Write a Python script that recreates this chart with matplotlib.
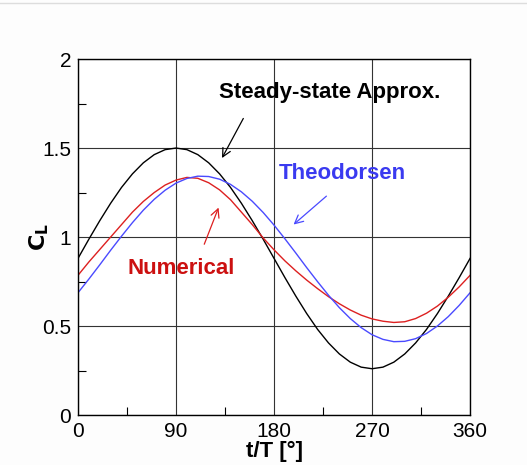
import numpy as np
import matplotlib
matplotlib.use('Agg')
import matplotlib.pyplot as plt
from matplotlib.lines import Line2D
from matplotlib.ticker import MultipleLocator

plt.rcParams['font.family'] = ['Liberation Sans', 'DejaVu Sans']

#%% datos (fase en grados, C_L)
theta = [0, 10, 20, 30, 40, 50, 60, 70, 80, 90, 100, 110, 120, 130, 140, 150, 160, 170, 180,
         190, 200, 210, 220, 230, 240, 250, 260, 270, 280, 290, 300, 310, 320, 330, 340, 350, 360]

cl_steady = [0.880, 0.988, 1.092, 1.190, 1.279, 1.355, 1.417, 1.463, 1.491, 1.500, 1.491, 1.463,
             1.417, 1.355, 1.279, 1.190, 1.092, 0.988, 0.880, 0.772, 0.668, 0.570, 0.481, 0.405,
             0.343, 0.297, 0.269, 0.260, 0.269, 0.297, 0.343, 0.405, 0.481, 0.570, 0.668, 0.772, 0.880]

cl_numerical = [0.785, 0.860, 0.930, 1.000, 1.070, 1.140, 1.200, 1.250, 1.292, 1.320, 1.335, 1.330,
                1.305, 1.265, 1.210, 1.140, 1.070, 0.995, 0.928, 0.866, 0.810, 0.758, 0.710, 0.665,
                0.625, 0.590, 0.561, 0.540, 0.527, 0.520, 0.524, 0.542, 0.572, 0.612, 0.662, 0.720, 0.785]

cl_theodorsen = [0.687, 0.764, 0.844, 0.926, 1.005, 1.081, 1.151, 1.212, 1.263, 1.303, 1.329, 1.342,
                 1.340, 1.325, 1.296, 1.254, 1.201, 1.138, 1.067, 0.990, 0.910, 0.828, 0.749, 0.673,
                 0.603, 0.542, 0.491, 0.451, 0.425, 0.412, 0.414, 0.429, 0.458, 0.500, 0.553, 0.616, 0.687]

#%% figura
fig = plt.figure(figsize=(5.27, 4.65), dpi=100)
fig.patch.set_facecolor('#fdfdfd')
ax = fig.add_axes([0.148, 0.1075, 0.744, 0.7655])
ax.set_facecolor('white')

ax.plot(theta, cl_steady, color='black', lw=1.0)
ax.plot(theta, cl_numerical, color='#dd2020', lw=1.0)
ax.plot(theta, cl_theodorsen, color='#4a4aff', lw=1.0)

ax.set_xlim(0, 360)
ax.set_ylim(0, 2)
ax.xaxis.set_major_locator(MultipleLocator(90))
ax.xaxis.set_minor_locator(MultipleLocator(45))
ax.yaxis.set_minor_locator(MultipleLocator(0.25))
ax.set_yticks([0, 0.5, 1, 1.5, 2])
ax.set_yticklabels(['0', '0.5', '1', '1.5', '2'])
ax.grid(which='major', color='#333333', lw=0.8)
ax.tick_params(which='both', direction='in', labelsize=15, length=6, width=0.8, pad=5)
ax.tick_params(which='major', length=0)
for s in ax.spines.values():
    s.set_linewidth(1.0)

ax.set_xlabel('t/T [°]', fontsize=16, fontweight='bold', labelpad=0)
ax.set_ylabel(r'$\mathbf{C_L}$', fontsize=16, labelpad=-6.5)

# anotaciones
ax.text(231, 1.81, 'Steady-state Approx.', fontsize=16, fontweight='bold', color='black', ha='center', va='center')
ax.annotate('', xy=(131, 1.43), xytext=(153, 1.68),
            arrowprops=dict(arrowstyle='->', color='black', lw=0.9, mutation_scale=15))
ax.text(243, 1.355, 'Theodorsen', fontsize=16, fontweight='bold', color='#3a3af0', ha='center', va='center')
ax.annotate('', xy=(196, 1.06), xytext=(230, 1.24),
            arrowprops=dict(arrowstyle='->', color='#4a4aff', lw=0.9, mutation_scale=15))
ax.text(95, 0.826, 'Numerical', fontsize=16, fontweight='bold', color='#cc1010', ha='center', va='center')
ax.annotate('', xy=(130, 1.18), xytext=(115, 0.945),
            arrowprops=dict(arrowstyle='->', color='#dd2020', lw=0.9, mutation_scale=15))

fig.add_artist(Line2D([0, 1], [0.993, 0.993], transform=fig.transFigure, color='#dddddd', lw=1))

fig.savefig('out.png', dpi=100)
